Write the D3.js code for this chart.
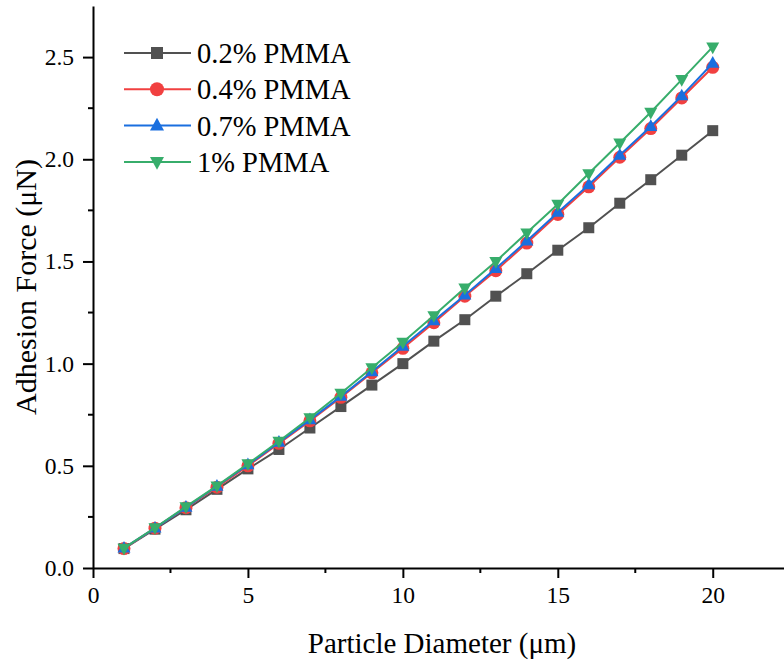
<!DOCTYPE html>
<html>
<head>
<meta charset="utf-8">
<script src="https://cdn.jsdelivr.net/npm/d3@7"></script>
<style>
  body { margin: 0; background: #fff; }
</style>
</head>
<body>
<div id="chart"></div>
<script>
// particle diameter (um)
const diameters = [1,2,3,4,5,6,7,8,9,10,11,12,13,14,15,16,17,18,19,20];

// adhesion force (uN) per PMMA content
const pmma02 = [0.095,0.19,0.285,0.385,0.485,0.58,0.685,0.79,0.895,1.0,1.11,1.215,1.33,1.44,1.555,1.665,1.785,1.90,2.02,2.14];
const pmma04 = [0.095,0.195,0.295,0.395,0.50,0.61,0.72,0.835,0.955,1.075,1.20,1.33,1.455,1.59,1.73,1.865,2.01,2.15,2.30,2.45];
const pmma07 = [0.097,0.195,0.297,0.40,0.505,0.615,0.725,0.84,0.96,1.085,1.21,1.335,1.465,1.60,1.74,1.875,2.02,2.16,2.31,2.47];
const pmma1  = [0.097,0.197,0.30,0.402,0.51,0.62,0.735,0.855,0.98,1.105,1.235,1.37,1.50,1.64,1.78,1.93,2.08,2.23,2.39,2.55];

const seriesNames = ["0.2% PMMA", "0.4% PMMA", "0.7% PMMA", "1% PMMA"];
const seriesValues = [pmma02, pmma04, pmma07, pmma1];
const seriesColors = ["#515151", "#F14040", "#1A6FDF", "#37AD6B"];
const seriesSymbols = ["square", "circle", "up", "down"];

const xTicks = [0, 5, 10, 15, 20];
const yTicks = [0.0, 0.5, 1.0, 1.5, 2.0, 2.5];

const font = "'Liberation Serif'";
const width = 784, height = 663;
const mLeft = 93, mRight = 784, mTop = 6, mBottom = 568;

const svg = d3.select("#chart").append("svg")
  .attr("width", width)
  .attr("height", height);

const x = d3.scaleLinear().domain([0, 22.3]).range([mLeft, mRight]);
const y = d3.scaleLinear().domain([0, 2.75]).range([mBottom, mTop]);

function symbolPath(type, size) {
  if (type === "square") return d3.symbol(d3.symbolSquare, size * size)();
  if (type === "circle") return d3.symbol(d3.symbolCircle, Math.PI * size * size / 4)();
  const h = size * 0.9, w = size / 2;
  if (type === "up") return `M0,${-h * 0.62}L${w},${h * 0.38}L${-w},${h * 0.38}Z`;
  return `M0,${h * 0.62}L${w},${-h * 0.38}L${-w},${-h * 0.38}Z`;
}

// series
const line = d3.line().x((d, i) => x(diameters[i])).y(d => y(d));
seriesValues.forEach((vals, k) => {
  const g = svg.append("g");
  g.append("path")
    .datum(vals)
    .attr("d", line)
    .attr("fill", "none")
    .attr("stroke", seriesColors[k])
    .attr("stroke-width", 2);
  g.selectAll("path.pt")
    .data(vals)
    .enter()
    .append("path")
    .attr("class", "pt")
    .attr("d", symbolPath(seriesSymbols[k], seriesSymbols[k] === "square" ? 11 : 13))
    .attr("transform", (d, i) => `translate(${x(diameters[i])},${y(d)})`)
    .attr("fill", seriesColors[k]);
});

// axes
const xAxis = d3.axisBottom(x).tickValues(xTicks).tickFormat(d3.format("d")).tickSize(10).tickPadding(8).tickSizeOuter(0);
const yAxis = d3.axisLeft(y).tickValues(yTicks).tickFormat(d3.format(".1f")).tickSize(10).tickPadding(9).tickSizeOuter(0);

const gx = svg.append("g").attr("transform", `translate(0,${mBottom})`).call(xAxis);
const gy = svg.append("g").attr("transform", `translate(${mLeft},0)`).call(yAxis);

// minor ticks
gx.selectAll("line.minor")
  .data([2.5, 7.5, 12.5, 17.5])
  .enter().append("line")
  .attr("class", "minor")
  .attr("x1", d => x(d)).attr("x2", d => x(d))
  .attr("y1", 0).attr("y2", 5)
  .attr("stroke", "#000").attr("stroke-width", 2);
gy.selectAll("line.minor")
  .data([0.25, 0.75, 1.25, 1.75, 2.25])
  .enter().append("line")
  .attr("class", "minor")
  .attr("y1", d => y(d)).attr("y2", d => y(d))
  .attr("x1", 0).attr("x2", -5)
  .attr("stroke", "#000").attr("stroke-width", 2);

[gx, gy].forEach(g => {
  g.attr("font-family", null).attr("font-size", null);
  g.selectAll(".domain").attr("stroke", "#000").attr("stroke-width", 2);
  g.selectAll(".tick line").attr("stroke", "#000").attr("stroke-width", 2);
  g.selectAll(".tick text")
    .style("font-family", font)
    .style("font-size", "23.5px")
    .attr("fill", "#000");
});

// axis titles
svg.append("text")
  .attr("x", 442)
  .attr("y", 653)
  .attr("text-anchor", "middle")
  .style("font-family", font)
  .style("font-size", "29px")
  .text("Particle Diameter (μm)");

svg.append("text")
  .attr("transform", `translate(36,287) rotate(-90)`)
  .attr("text-anchor", "middle")
  .style("font-family", font)
  .style("font-size", "30px")
  .text("Adhesion Force (μN)");

// legend
const legend = svg.append("g");
seriesNames.forEach((name, k) => {
  const ly = 53 + k * 36.3;
  legend.append("line")
    .attr("x1", 124).attr("x2", 191)
    .attr("y1", ly).attr("y2", ly)
    .attr("stroke", seriesColors[k]).attr("stroke-width", 2);
  legend.append("path")
    .attr("d", symbolPath(seriesSymbols[k], seriesSymbols[k] === "square" ? 12 : 14))
    .attr("transform", `translate(157,${ly})`)
    .attr("fill", seriesColors[k]);
  legend.append("text")
    .attr("x", 197)
    .attr("y", ly)
    .attr("dy", "0.35em")
    .style("font-family", font)
    .style("font-size", "28.5px")
    .text(name);
});
</script>
</body>
</html>
